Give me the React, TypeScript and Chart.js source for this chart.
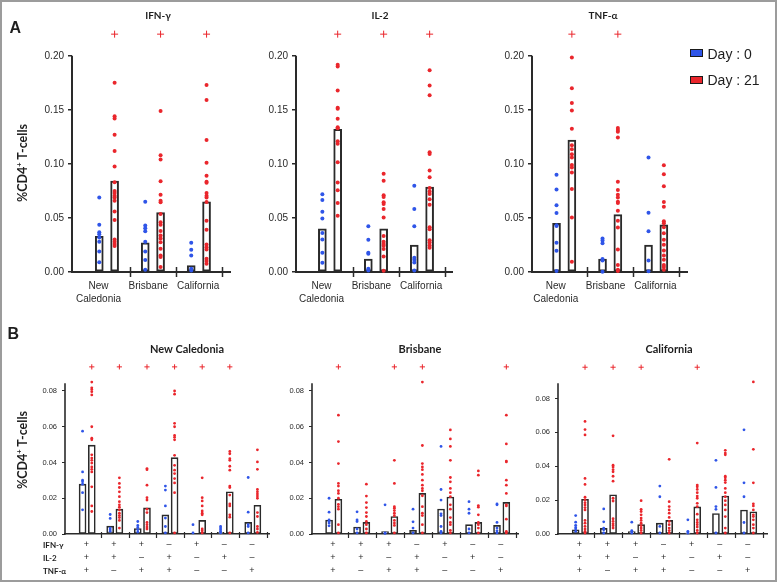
import React, { useEffect, useRef } from "react";
import { Chart, registerables } from "chart.js";
Chart.register(...registerables);

// ---------------- data ----------------
const SITE_TICK_LABELS: (string | string[])[] = [["New", "Caledonia"], "Brisbane", "California"];
const CYTOKINES = ["IFN-γ", "IL-2", "TNF-α"];
const SITES = ["New Caledonia", "Brisbane", "California"];
const DAY_LABELS = ["Day : 0", "Day : 21"];
const A_Y_TICKS = [0, 0.05, 0.1, 0.15, 0.2];
const B_Y_TICKS = [0, 0.02, 0.04, 0.06, 0.08];

// combination rows for panel B (7 columns)
const ROW_IFNG = ["+", "+", "+", "–", "+", "–", "–"];
const ROW_IL2 = ["+", "+", "–", "+", "–", "+", "–"];
const ROW_TNF = ["+", "–", "+", "+", "–", "–", "+"];

// Panel A : IFN-γ
const A_IFNG_DAY0_MEAN = [0.033, 0.027, 0.006];
const A_IFNG_DAY21_MEAN = [0.084, 0.055, 0.065];
const A_IFNG_DAY0 = [
  [0.069, 0.0436, 0.0368, 0.035, 0.032, 0.028, 0.019, 0.009],
  [0.065, 0.043, 0.0405, 0.0377, 0.028, 0.019, 0.011, 0.002],
  [0.027, 0.0206, 0.0153, 0.003, 0.0015],
];
const A_IFNG_DAY21 = [
  [0.175, 0.144, 0.142, 0.127, 0.112, 0.0975, 0.083, 0.075, 0.073, 0.0705, 0.069, 0.066, 0.056, 0.048, 0.03, 0.028, 0.026, 0.024],
  [0.149, 0.108, 0.104, 0.084, 0.0715, 0.066, 0.0644, 0.0537, 0.046, 0.0436, 0.038, 0.0337, 0.031, 0.0276, 0.0215, 0.0153, 0.0138, 0.0046],
  [0.173, 0.159, 0.122, 0.101, 0.089, 0.0834, 0.0825, 0.073, 0.0705, 0.069, 0.0647, 0.0475, 0.039, 0.0255, 0.023, 0.0209, 0.0123, 0.0101, 0.0077],
];
const A_IFNG_SIG = [1, 1, 1];

// Panel A : IL-2
const A_IL2_DAY0_MEAN = [0.04, 0.012, 0.025];
const A_IL2_DAY21_MEAN = [0.132, 0.04, 0.0785];
const A_IL2_DAY0 = [
  [0.072, 0.0666, 0.0558, 0.0494, 0.036, 0.03, 0.0178, 0.0086],
  [0.0423, 0.0298, 0.0178, 0.0169, 0.003, 0.0015],
  [0.0798, 0.0583, 0.0423, 0.0132, 0.0113, 0.0089, 0.0015],
];
const A_IL2_DAY21 = [
  [0.1917, 0.19, 0.1678, 0.152, 0.151, 0.1417, 0.134, 0.133, 0.121, 0.1187, 0.1015, 0.0828, 0.0755, 0.0638, 0.052],
  [0.0908, 0.0844, 0.0709, 0.0693, 0.0644, 0.0629, 0.0583, 0.0503, 0.0334, 0.028, 0.026, 0.0242, 0.0212, 0.0144, 0.0012],
  [0.1865, 0.1724, 0.1635, 0.1107, 0.1092, 0.0939, 0.0877, 0.0776, 0.0745, 0.0721, 0.0672, 0.0623, 0.0414, 0.0396, 0.0294, 0.0273, 0.0245, 0.0224],
];
const A_IL2_SIG = [1, 1, 1];

// Panel A : TNF-α
const A_TNF_DAY0_MEAN = [0.045, 0.012, 0.025];
const A_TNF_DAY21_MEAN = [0.122, 0.053, 0.0436];
const A_TNF_DAY0 = [
  [0.0899, 0.0764, 0.0617, 0.0546, 0.0433, 0.0426, 0.027, 0.0196, 0.001],
  [0.031, 0.0291, 0.0267, 0.012, 0.0107, 0.0003],
  [0.1058, 0.0549, 0.0377, 0.0107, 0.0006],
];
const A_TNF_DAY21 = [
  [0.1985, 0.17, 0.1564, 0.1494, 0.1325, 0.1172, 0.1135, 0.1089, 0.1058, 0.099, 0.0966, 0.092, 0.0767, 0.0503, 0.0095],
  [0.1331, 0.1313, 0.1297, 0.1245, 0.0834, 0.0758, 0.0715, 0.069, 0.065, 0.0638, 0.0567, 0.0475, 0.0411, 0.0209, 0.0064, 0.0021, 0.001],
  [0.0988, 0.0905, 0.0794, 0.0647, 0.0604, 0.0469, 0.0451, 0.0414, 0.0359, 0.0298, 0.0252, 0.0199, 0.0153, 0.0113, 0.0064, 0.0046, 0.0021],
];
const A_TNF_SIG = [1, 1, 0];

// Panel B : New Caledonia
const B_NC_DAY0_MEAN = [0.0279, 0.0044, 0.0031, 0.0107, 0, 0.0009, 0.0065];
const B_NC_DAY21_MEAN = [0.0497, 0.0139, 0.0146, 0.0427, 0.0076, 0.0236, 0.0161];
const B_NC_DAY0 = [
  [0.0575, 0.0347, 0.0301, 0.0292, 0.0279, 0.0231, 0.0135],
  [0.0109, 0.0087, 0.0033, 0.0024, 0.0015],
  [0.007, 0.0048, 0.0037, 0.0024, 0.0011],
  [0.0268, 0.0246, 0.0157, 0.0089, 0.0042, 0.0006],
  [0.0052, 0.0006],
  [0.0042, 0.0033, 0.0024, 0.0015, 0.0006],
  [0.0316, 0.0122, 0.0052, 0.0042, 0.0006],
];
const B_NC_DAY21 = [
  [0.085, 0.0818, 0.0809, 0.0796, 0.0778, 0.06, 0.0536, 0.0527, 0.0443, 0.0425, 0.0412, 0.0397, 0.0375, 0.0362, 0.0347, 0.0264, 0.0157, 0.0126],
  [0.0314, 0.0283, 0.026, 0.0236, 0.0209, 0.0181, 0.0163, 0.015, 0.0135, 0.0116, 0.0103, 0.0092, 0.0076, 0.0033],
  [0.0366, 0.036, 0.0273, 0.0203, 0.019, 0.0139, 0.012, 0.0065, 0.0052, 0.0039, 0.0028],
  [0.08, 0.0782, 0.0619, 0.06, 0.0551, 0.0541, 0.0527, 0.044, 0.0384, 0.0357, 0.0338, 0.031, 0.0286, 0.0231, 0.0006],
  [0.0314, 0.0203, 0.0185, 0.0157, 0.0129, 0.0116, 0.0107, 0.0028, 0.0018, 0.0006],
  [0.0462, 0.0449, 0.0421, 0.0412, 0.0379, 0.0357, 0.0268, 0.026, 0.0218, 0.0168, 0.0157, 0.0107, 0.0094, 0.0006],
  [0.0471, 0.0403, 0.0362, 0.0249, 0.0236, 0.0224, 0.0212, 0.02, 0.012, 0.0098, 0.0042, 0.0028, 0.0009],
];
const B_NC_SIG = [1, 1, 1, 1, 1, 1, 0];

// Panel B : Brisbane
const B_BR_DAY0_MEAN = [0.0078, 0.0039, 0.0013, 0.002, 0.014, 0.0052, 0.0048];
const B_BR_DAY21_MEAN = [0.0194, 0.0065, 0.0098, 0.0227, 0.0207, 0.0065, 0.0177];
const B_BR_DAY0 = [
  [0.02, 0.0122, 0.0079, 0.007, 0.0061, 0.0046],
  [0.0124, 0.0079, 0.007, 0.0028, 0.0006],
  [0.0163, 0.0006, 0.0003],
  [0.0139, 0.0068, 0.0033, 0.0006],
  [0.049, 0.0249, 0.019, 0.0113, 0.0103, 0.0042, 0.0015, 0.0006],
  [0.0181, 0.0139, 0.0116, 0.0028, 0.0006],
  [0.0168, 0.0163, 0.0065, 0.0033, 0.0018, 0.0006],
];
const B_BR_DAY21 = [
  [0.0665, 0.0517, 0.0394, 0.0283, 0.0268, 0.0242, 0.0227, 0.02, 0.0166, 0.0153, 0.0139, 0.0052, 0.0006],
  [0.0279, 0.0212, 0.0176, 0.0148, 0.012, 0.0098, 0.007, 0.0052, 0.0028, 0.0006],
  [0.0412, 0.0283, 0.0153, 0.0144, 0.0131, 0.0116, 0.0102, 0.0076, 0.0061, 0.0048, 0.0006],
  [0.085, 0.0495, 0.0394, 0.0375, 0.036, 0.0333, 0.0301, 0.0273, 0.0255, 0.0242, 0.0214, 0.0153, 0.0116, 0.0103, 0.0052, 0.0006],
  [0.0582, 0.0532, 0.049, 0.0412, 0.0316, 0.0292, 0.0255, 0.0231, 0.0209, 0.0163, 0.0139, 0.0092, 0.0065, 0.0052, 0.002, 0.0006],
  [0.0353, 0.0329, 0.0159, 0.015, 0.0107, 0.0065, 0.0052, 0.0033, 0.0006],
  [0.0665, 0.0504, 0.0408, 0.0403, 0.0301, 0.0273, 0.0227, 0.0163, 0.0157, 0.0083, 0.0015, 0.0006],
];
const B_BR_SIG = [1, 0, 1, 1, 0, 0, 1];

// Panel B : California
const B_CA_DAY0_MEAN = [0.0025, 0.0033, 0.0014, 0.0064, 0.0006, 0.0121, 0.0142];
const B_CA_DAY21_MEAN = [0.0205, 0.0232, 0.0055, 0.008, 0.016, 0.0224, 0.0131];
const B_CA_DAY0 = [
  [0.0109, 0.007, 0.0051, 0.0039, 0.0029, 0.0016],
  [0.0148, 0.0072, 0.0035, 0.0025, 0.0006],
  [0.007, 0.002, 0.0012, 0.0006],
  [0.0283, 0.022, 0.0045, 0.0006],
  [0.0084, 0.0016, 0.0006],
  [0.0435, 0.0275, 0.0162, 0.0146, 0.0006],
  [0.0615, 0.0302, 0.022, 0.0068, 0.0006],
];
const B_CA_DAY21 = [
  [0.0665, 0.0617, 0.0585, 0.0328, 0.0293, 0.0217, 0.0201, 0.0185, 0.0172, 0.0156, 0.0142, 0.008, 0.0064, 0.0045, 0.0029, 0.0016, 0.0006],
  [0.058, 0.0406, 0.0396, 0.038, 0.0367, 0.0341, 0.0312, 0.0211, 0.0195, 0.009, 0.0074, 0.006, 0.0049, 0.0035],
  [0.0197, 0.0146, 0.0133, 0.0113, 0.0094, 0.008, 0.0064, 0.0049, 0.0035, 0.0021, 0.0006],
  [0.0441, 0.0191, 0.0162, 0.0142, 0.0123, 0.0098, 0.0074, 0.0055, 0.0035, 0.002, 0.0006],
  [0.0537, 0.0289, 0.0279, 0.0263, 0.0244, 0.0224, 0.0211, 0.0181, 0.0162, 0.0117, 0.0084, 0.0068, 0.0055, 0.0041, 0.0021, 0.0006],
  [0.0494, 0.0478, 0.0468, 0.0341, 0.0332, 0.0318, 0.0304, 0.0269, 0.0244, 0.022, 0.0197, 0.0172, 0.0142, 0.0103, 0.0035, 0.0006],
  [0.0898, 0.05, 0.0302, 0.0178, 0.0166, 0.0142, 0.0113, 0.0103, 0.0084, 0.0055, 0.0035, 0.0006],
];
const B_CA_SIG = [1, 1, 1, 0, 1, 0, 0];

// value where the "+" significance markers sit, and where each y axis line ends
const A_SIG_LEVEL = 0.22;
const B_SIG_LEVEL = [0.0935, 0.0935, 0.0985];
const A_AXIS_TOP = 0.2;
const B_AXIS_TOP = [0.0843, 0.0843, 0.089];

// ---------------- style ----------------
const BLUE = "#2f55e8";
const RED = "#ea262c";
const INK = "#2a2a2a";
const PAD_L = 50, PAD_R = 12, PAD_T = 8, PAD_B = 50;

type Spec = {
  area: number[]; // left, axis-top, right, bottom (px)
  markTop: number; // px top of drawing region (room for "+" markers)
  xRange: number[];
  axisTop: number;
  yTicks: number[];
  means0: number[];
  means21: number[];
  pts0: number[][];
  pts21: number[][];
  sig: number[];
  sigY: number;
  labelPos: number[];
  labels: (string | string[])[];
  big: boolean;
};

const axisDecor = {
  id: "axisDecor",
  beforeDatasetsDraw(chart: any, _args: any, o: any) {
    const { ctx, chartArea } = chart;
    const sx = chart.scales.x;
    const sy = chart.scales.y;
    ctx.save();
    ctx.strokeStyle = o.color;
    // y axis line, from 0 to the axis top value
    ctx.lineWidth = o.axisWidth;
    ctx.beginPath();
    ctx.moveTo(chartArea.left, sy.getPixelForValue(0) + o.axisWidth / 2);
    ctx.lineTo(chartArea.left, sy.getPixelForValue(o.axisTop));
    ctx.stroke();
    // crossing tick marks between groups on the x axis
    ctx.lineWidth = o.tickWidth;
    for (const v of o.values) {
      const px = Math.round(sx.getPixelForValue(v)) + 0.5;
      ctx.beginPath();
      ctx.moveTo(px, chartArea.bottom - o.up);
      ctx.lineTo(px, chartArea.bottom + o.down);
      ctx.stroke();
    }
    ctx.restore();
  },
};

function Panel({ spec }: { spec: Spec }) {
  const ref = useRef<HTMLCanvasElement | null>(null);
  const [l, t, r, b] = spec.area;
  const w = r - l + PAD_L + PAD_R;
  const h = b - spec.markTop + PAD_T + PAD_B;
  useEffect(() => {
    const big = spec.big;
    const yMax = (spec.axisTop * (b - spec.markTop)) / (b - t);
    const bars: { x: number; y: number }[] = [];
    spec.means0.forEach((m, g) => {
      bars.push({ x: 3 * g + 1, y: m });
      bars.push({ x: 3 * g + 2, y: spec.means21[g] });
    });
    const p0 = spec.pts0.flatMap((pts, g) => pts.map((v) => ({ x: 3 * g + 1, y: v })));
    const p21 = spec.pts21.flatMap((pts, g) => pts.map((v) => ({ x: 3 * g + 2, y: v })));
    const sigs = spec.sig.flatMap((s, g) => (s ? [{ x: 3 * g + 2, y: spec.sigY }] : []));
    const tickVals = spec.means0.map((_, g) => 3 * (g + 1));
    const chart = new Chart(ref.current as HTMLCanvasElement, {
      type: "scatter",
      data: {
        datasets: [
          {
            type: "scatter",
            data: sigs,
            pointStyle: "cross",
            pointRadius: big ? 3.5 : 2.6,
            pointBorderColor: RED,
            pointBorderWidth: 1,
            clip: false,
            order: 0,
          } as any,
          {
            type: "scatter",
            data: p21,
            pointRadius: big ? 2 : 1.4,
            pointBackgroundColor: RED,
            pointBorderColor: RED,
            pointBorderWidth: 0,
            clip: false,
            order: 1,
          } as any,
          {
            type: "scatter",
            data: p0,
            pointRadius: big ? 2 : 1.4,
            pointBackgroundColor: BLUE,
            pointBorderColor: BLUE,
            pointBorderWidth: 0,
            clip: false,
            order: 1,
          } as any,
          {
            type: "bar",
            data: bars,
            backgroundColor: "#ffffff",
            borderColor: INK,
            borderWidth: big ? 2 : 1.6,
            borderSkipped: false,
            barThickness: big ? 8 : 7,
            clip: false,
            order: 3,
          } as any,
        ],
      },
      options: {
        responsive: false,
        maintainAspectRatio: false,
        animation: false,
        events: [],
        layout: { padding: { left: 0, right: PAD_R, top: PAD_T, bottom: 0 } },
        plugins: {
          legend: { display: false },
          tooltip: { enabled: false },
          axisDecor: {
            values: tickVals,
            up: big ? 5 : 2,
            down: big ? 5 : 4,
            color: INK,
            tickWidth: big ? 1.5 : 1.2,
            axisWidth: big ? 2 : 1.6,
            axisTop: spec.axisTop,
          },
        } as any,
        scales: {
          x: {
            type: "linear",
            min: spec.xRange[0],
            max: spec.xRange[1],
            offset: false,
            afterBuildTicks: (s: any) => {
              s.ticks = spec.labelPos.map((v) => ({ value: v }));
            },
            afterFit: (s: any) => {
              s.height = PAD_B;
            },
            ticks: {
              callback: (_v: any, i: number) => spec.labels[i],
              autoSkip: false,
              maxRotation: 0,
              minRotation: 0,
              color: INK,
              padding: big ? 7.5 : 4,
              font: big
                ? { family: "Liberation Sans", size: 10, lineHeight: 1.3 }
                : { family: "Liberation Sans", size: 9, lineHeight: 1.45 },
            },
            grid: { display: false, drawTicks: false, tickLength: 0 },
            border: { display: true, color: INK, width: big ? 2 : 1.6 },
          } as any,
          y: {
            type: "linear",
            min: 0,
            max: yMax,
            afterBuildTicks: (s: any) => {
              s.ticks = spec.yTicks.map((v) => ({ value: v }));
            },
            afterFit: (s: any) => {
              s.width = PAD_L;
            },
            ticks: {
              callback: (v: any) => Number(v).toFixed(2),
              color: INK,
              padding: big ? 4 : 5,
              font: { family: "Liberation Sans", size: big ? 10 : 7.5 },
            },
            grid: {
              drawOnChartArea: false,
              drawTicks: true,
              tickLength: big ? 4 : 3,
              color: INK,
              lineWidth: big ? 1.5 : 1,
            },
            border: { display: false },
          } as any,
        },
      },
      plugins: [axisDecor as any],
    });
    return () => chart.destroy();
  }, [spec]);
  return (
    <canvas
      ref={ref}
      width={w}
      height={h}
      style={{ position: "absolute", left: l - PAD_L, top: spec.markTop - PAD_T, width: w, height: h }}
    />
  );
}

const A_LABEL_POS = [0.95, 4.2, 7.45];
const B_LABEL_POS = [1.4, 4.4, 7.4, 10.4, 13.4, 16.4, 19.4];
const B_LABELS = ROW_IFNG.map((s, i) => [s, ROW_IL2[i], ROW_TNF[i]]);

const SPECS: Spec[] = [
  { area: [72, 54, 230, 272], markTop: 26, xRange: [-0.78, 9.53], axisTop: A_AXIS_TOP, yTicks: A_Y_TICKS, means0: A_IFNG_DAY0_MEAN, means21: A_IFNG_DAY21_MEAN, pts0: A_IFNG_DAY0, pts21: A_IFNG_DAY21, sig: A_IFNG_SIG, sigY: A_SIG_LEVEL, labelPos: A_LABEL_POS, labels: SITE_TICK_LABELS, big: true },
  { area: [296, 54, 452, 272], markTop: 26, xRange: [-0.72, 9.46], axisTop: A_AXIS_TOP, yTicks: A_Y_TICKS, means0: A_IL2_DAY0_MEAN, means21: A_IL2_DAY21_MEAN, pts0: A_IL2_DAY0, pts21: A_IL2_DAY21, sig: A_IL2_SIG, sigY: A_SIG_LEVEL, labelPos: A_LABEL_POS, labels: SITE_TICK_LABELS, big: true },
  { area: [532, 54, 687, 272], markTop: 26, xRange: [-0.6, 9.51], axisTop: A_AXIS_TOP, yTicks: A_Y_TICKS, means0: A_TNF_DAY0_MEAN, means21: A_TNF_DAY21_MEAN, pts0: A_TNF_DAY0, pts21: A_TNF_DAY21, sig: A_TNF_SIG, sigY: A_SIG_LEVEL, labelPos: A_LABEL_POS, labels: SITE_TICK_LABELS, big: true },
  { area: [65, 382, 269, 534], markTop: 360, xRange: [-0.91, 21.26], axisTop: B_AXIS_TOP[0], yTicks: B_Y_TICKS, means0: B_NC_DAY0_MEAN, means21: B_NC_DAY21_MEAN, pts0: B_NC_DAY0, pts21: B_NC_DAY21, sig: B_NC_SIG, sigY: B_SIG_LEVEL[0], labelPos: B_LABEL_POS, labels: B_LABELS, big: false },
  { area: [312, 382, 518, 534], markTop: 360, xRange: [-0.83, 21.25], axisTop: B_AXIS_TOP[1], yTicks: B_Y_TICKS, means0: B_BR_DAY0_MEAN, means21: B_BR_DAY21_MEAN, pts0: B_BR_DAY0, pts21: B_BR_DAY21, sig: B_BR_SIG, sigY: B_SIG_LEVEL[1], labelPos: B_LABEL_POS, labels: B_LABELS, big: false },
  { area: [558, 382, 767, 534], markTop: 360, xRange: [-0.89, 21.46], axisTop: B_AXIS_TOP[2], yTicks: B_Y_TICKS, means0: B_CA_DAY0_MEAN, means21: B_CA_DAY21_MEAN, pts0: B_CA_DAY0, pts21: B_CA_DAY21, sig: B_CA_SIG, sigY: B_SIG_LEVEL[2], labelPos: B_LABEL_POS, labels: B_LABELS, big: false },
];

function Txt(props: {
  x: number; y: number; size: number; children: React.ReactNode;
  weight?: number; family?: string; align?: "left" | "center"; rotate?: number;
}) {
  const { x, y, size, children, weight = 700, family = "Lato", align = "center", rotate = 0 } = props;
  const tx = align === "center" ? "-50%" : "0";
  return (
    <div
      style={{
        position: "absolute",
        left: x,
        top: y,
        transform: `translate(${tx}, -50%) rotate(${rotate}deg)`,
        fontFamily: family,
        fontSize: size,
        fontWeight: weight,
        lineHeight: 1,
        whiteSpace: "nowrap",
        color: "#1e1e1e",
      }}
    >
      {children}
    </div>
  );
}

function YTitle({ x, y }: { x: number; y: number }) {
  return (
    <Txt x={x} y={y} size={12.5} rotate={-90}>
      %CD4
      <span style={{ fontSize: "0.6em", verticalAlign: "0.6em", lineHeight: 0 }}>+</span> T-cells
    </Txt>
  );
}

export default function App() {
  const aTitleX = [158, 380, 603];
  const bTitleX = [187, 420, 669];
  const rowY = [545, 558.3, 571];
  return (
    <div style={{ position: "absolute", left: 0, top: 0, width: 777, height: 582, background: "#fff", overflow: "hidden" }}>
      {SPECS.map((s, i) => (
        <Panel key={i} spec={s} />
      ))}
      <Txt x={15.3} y={27.5} size={16} family="Liberation Sans">A</Txt>
      <Txt x={13.3} y={334} size={16} family="Liberation Sans">B</Txt>
      {CYTOKINES.map((c, i) => (
        <Txt key={c} x={aTitleX[i]} y={14.5} size={10}>{c}</Txt>
      ))}
      {SITES.map((s, i) => (
        <Txt key={s} x={bTitleX[i]} y={347.5} size={11}>{s}</Txt>
      ))}
      <YTitle x={23} y={163} />
      <YTitle x={23} y={450} />
      {CYTOKINES.map((c, i) => (
        <Txt key={"row" + c} x={43} y={rowY[i]} size={8} align="left">{c}</Txt>
      ))}
      {DAY_LABELS.map((d, i) => (
        <React.Fragment key={d}>
          <div
            style={{
              position: "absolute",
              left: 690,
              top: i === 0 ? 49 : 75.5,
              width: 13,
              height: 8,
              boxSizing: "border-box",
              border: "1px solid #1a1a1a",
              background: i === 0 ? BLUE : RED,
            }}
          />
          <Txt x={707.5} y={i === 0 ? 53.5 : 79.8} size={14} weight={400} family="Liberation Sans" align="left">{d}</Txt>
        </React.Fragment>
      ))}
      <div style={{ position: "absolute", inset: 0, border: "2px solid #9c9c9c", boxSizing: "border-box", pointerEvents: "none" }} />
    </div>
  );
}
